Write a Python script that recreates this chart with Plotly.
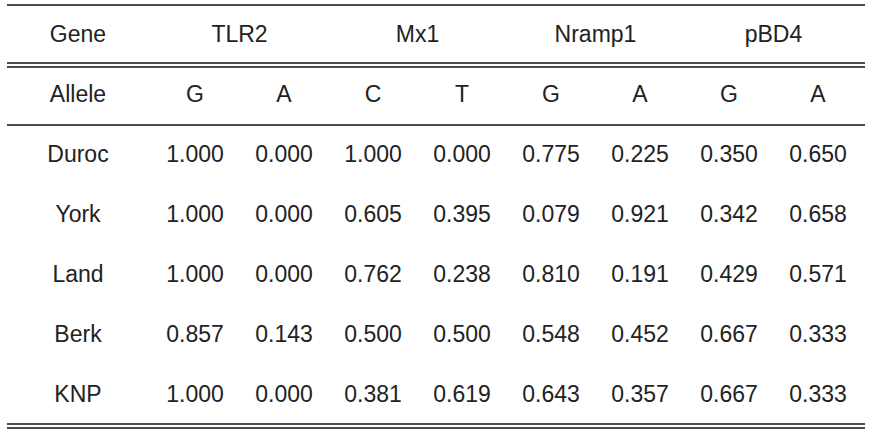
import plotly.graph_objects as go

# ---- data ----
genes = ["TLR2", "Mx1", "Nramp1", "pBD4"]
alleles = ["G", "A", "C", "T", "G", "A", "G", "A"]
breeds = ["Duroc", "York", "Land", "Berk", "KNP"]
tlr2_g = [1.000, 1.000, 1.000, 0.857, 1.000]
tlr2_a = [0.000, 0.000, 0.000, 0.143, 0.000]
mx1_c = [1.000, 0.605, 0.762, 0.500, 0.381]
mx1_t = [0.000, 0.395, 0.238, 0.500, 0.619]
nramp1_g = [0.775, 0.079, 0.810, 0.548, 0.643]
nramp1_a = [0.225, 0.921, 0.191, 0.452, 0.357]
pbd4_g = [0.350, 0.342, 0.429, 0.667, 0.667]
pbd4_a = [0.650, 0.658, 0.571, 0.333, 0.333]

columns = [tlr2_g, tlr2_a, mx1_c, mx1_t, nramp1_g, nramp1_a, pbd4_g, pbd4_a]

# ---- layout constants ----
W, H = 872, 436
label_x = 78
col0_x = 195
col_step = 89
row0_y = 36
row_step = 60.1
font = dict(family="Liberation Sans, Arial, sans-serif", size=23, color="#222222")
line_color = "#111111"

col_x = [col0_x + i * col_step for i in range(len(alleles))]
row_y = [row0_y + i * row_step for i in range(len(breeds) + 2)]

xs, ys, texts = [], [], []
# header row
xs.append(label_x); ys.append(row_y[0]); texts.append("Gene")
for g_i, g in enumerate(genes):
    xs.append((col_x[2 * g_i] + col_x[2 * g_i + 1]) / 2)
    ys.append(row_y[0]); texts.append(g)
# allele row
xs.append(label_x); ys.append(row_y[1]); texts.append("Allele")
for c_i, a in enumerate(alleles):
    xs.append(col_x[c_i]); ys.append(row_y[1]); texts.append(a)
# data rows
for r_i, b in enumerate(breeds):
    xs.append(label_x); ys.append(row_y[r_i + 2]); texts.append(b)
    for c_i, col in enumerate(columns):
        xs.append(col_x[c_i]); ys.append(row_y[r_i + 2]); texts.append(f"{col[r_i]:.3f}")

fig = go.Figure()
fig.add_trace(go.Scatter(x=xs, y=ys, text=texts, mode="text",
                         textfont=font, textposition="middle center",
                         hoverinfo="skip", showlegend=False))

x0, x1 = 7, 865
for y, w in [(5, 1.5), (63, 1.5), (67, 1.5), (125, 1.5), (424, 1.5), (428, 1.5)]:
    fig.add_shape(type="line", x0=x0, x1=x1, y0=y, y1=y, xref="x", yref="y",
                  line=dict(color=line_color, width=w))

fig.update_layout(
    width=W, height=H, margin=dict(l=0, r=0, t=0, b=0),
    paper_bgcolor="white", plot_bgcolor="white",
    xaxis=dict(range=[0, W], visible=False, fixedrange=True),
    yaxis=dict(range=[H, 0], visible=False, fixedrange=True),
)
fig.write_html("out.html", config={"displayModeBar": False},
               post_script="document.body.style.margin='0';document.body.style.overflow='hidden';")
